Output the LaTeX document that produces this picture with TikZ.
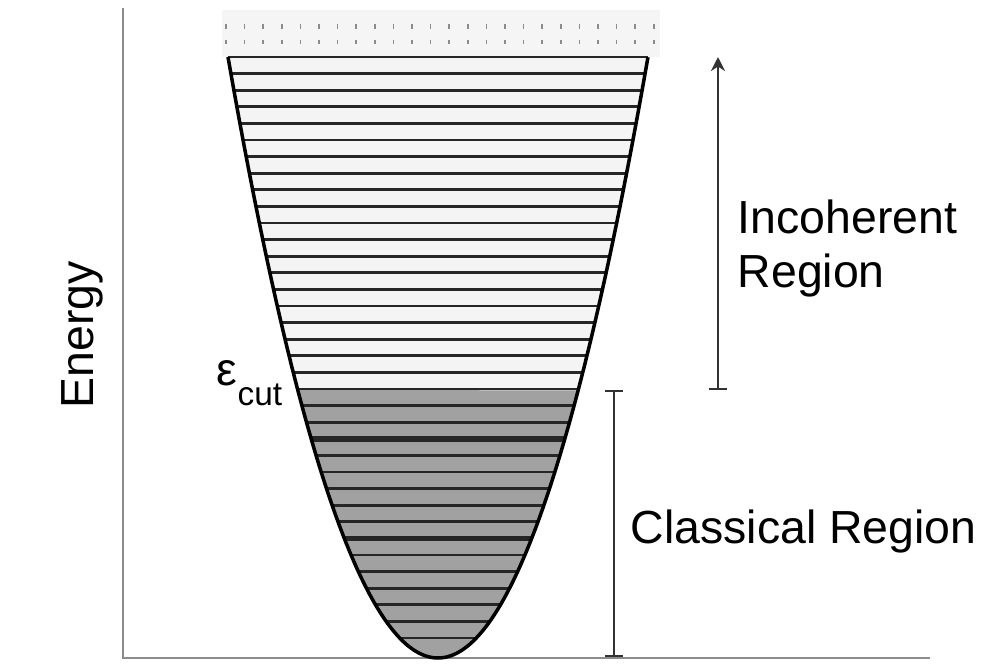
\documentclass[tikz,border=0pt]{standalone}
\usepackage{fontspec}
\setmainfont{Liberation Sans}
\usepackage{tikz}
\usetikzlibrary{arrows.meta,calc,positioning}

\begin{document}
\begin{tikzpicture}[x=0.01cm,y=-0.01cm,
    level/.style={line width=0.8pt,black!85},
    axis/.style={line width=0.75pt,black!45},
    span/.style={line width=0.7pt,black!80},
    lbl/.style={font=\fontsize{13.2}{15.6}\selectfont,inner sep=0pt}]
  \useasboundingbox (0,0) rectangle (1002,669);
  % axes
  \coordinate (o) at (123,658);
  \coordinate (ytop) at (123,8);
  \coordinate (xend) at (930,658);
  \draw[axis] (ytop) -- (o) -- (xend);
  \node[lbl,rotate=90] (energy) at (82,335) {Energy};
  % continuum above the well
  \fill[gray!8] (222,10) rectangle (660,57);
  \foreach \i in {0,...,23} {
    \draw[black!45,line width=0.4pt] ({226+18.6*\i},24) -- ++(0,5);
    \draw[black!45,line width=0.4pt] ({226+18.6*\i},40) -- ++(0,4);
  }
  % well: light part, then classical part below the cut
  \fill[gray!9] plot[domain=-1:1,samples=80,smooth] ({438+210*\x},{658-601*\x*\x}) -- cycle;
  \fill[black!37] plot[domain=-0.6678:0.6678,samples=60,smooth] ({438+210*\x},{658-601*\x*\x}) -- cycle;
  % levels
  \foreach \k in {0,...,35} {
    \pgfmathsetmacro{\yy}{57+16.6*\k}
    \pgfmathsetmacro{\hw}{210*sqrt((658-\yy)/601)}
    \draw[level] ({438-\hw},\yy) -- ({438+\hw},\yy);
  }
  \foreach \k in {23,29} {
    \pgfmathsetmacro{\yy}{57+16.6*\k}
    \pgfmathsetmacro{\hw}{210*sqrt((658-\yy)/601)}
    \draw[level,line width=1.6pt] ({438-\hw},\yy) -- ({438+\hw},\yy);
  }
  \draw[line width=1pt] plot[domain=-1:1,samples=80,smooth] ({438+210*\x},{658-601*\x*\x});
  \node[lbl,anchor=base west] (ecut) at (216,385) {ε};
  \node[font=\fontsize{9.5}{11}\selectfont,inner sep=0pt,anchor=base west] (cutsub) at (237,405) {cut};
  % regions
  \coordinate (inc-lo) at (718,390);
  \coordinate (inc-hi) at (718,57);
  \coordinate (cls-hi) at (614,390);
  \coordinate (cls-lo) at (614,657);
  \draw[span,{Bar[width=5pt]}-{Stealth[length=4pt,width=4pt]}] (inc-lo) -- (inc-hi);
  \draw[span,{Bar[width=5pt]}-{Bar[width=5pt]}] (cls-hi) -- (cls-lo);
  \node[lbl,anchor=base west,align=left] (inc) at (737,233) {Incoherent};
  \node[lbl,anchor=base west] (inc2) at (737,287) {Region};
  \node[lbl,anchor=base west] (cls) at (630,543) {Classical Region};
\end{tikzpicture}
\end{document}
